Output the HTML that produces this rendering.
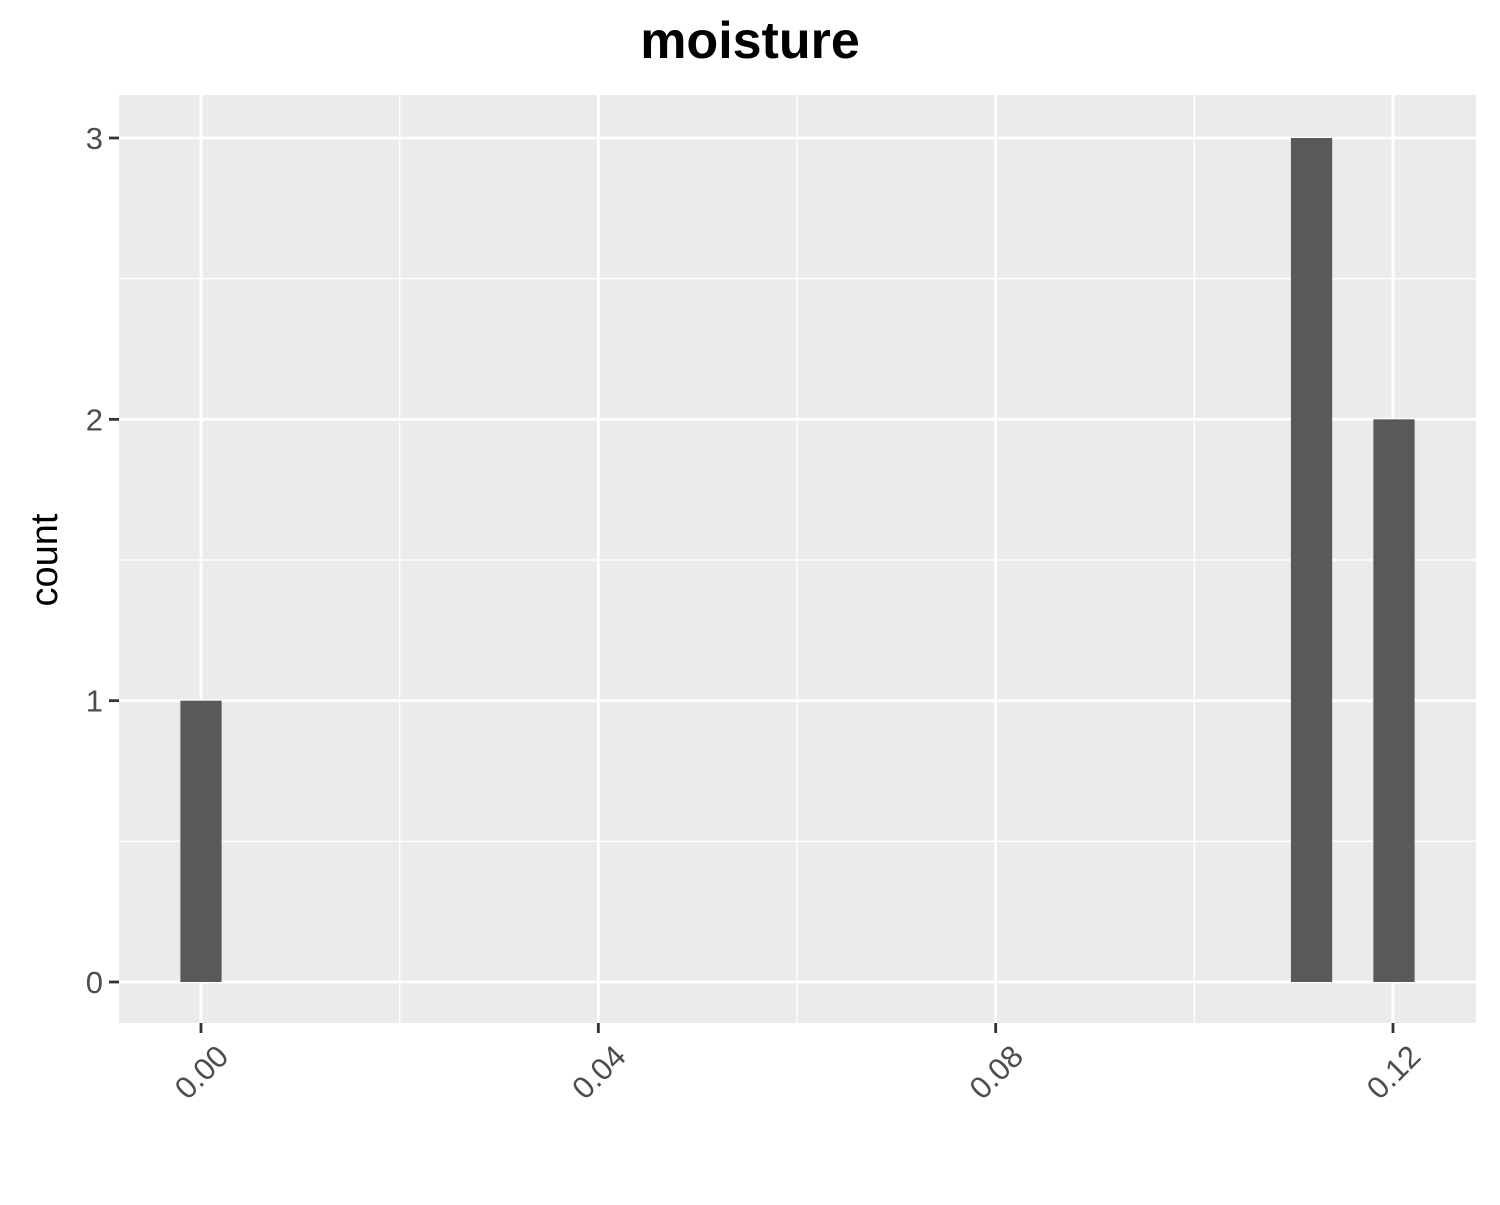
<!DOCTYPE html>
<html><head><meta charset="utf-8"><style>
body{margin:0;background:#fff;}
svg text{font-family:"Liberation Sans",Arial,sans-serif;}
</style></head><body>
<svg id="chart" width="1500" height="1200" xmlns="http://www.w3.org/2000/svg">
<rect width="1500" height="1200" fill="#fff"/>
<text x="750" y="58" text-anchor="middle" font-size="52" font-weight="bold" fill="#000">moisture</text>
<rect x="119" y="95" width="1357" height="928" fill="#ebebeb"/>
<g id="grid"></g><g id="bars"></g><g id="axes"></g>
<text transform="translate(57,560) rotate(-90)" text-anchor="middle" font-size="38" fill="#000">count</text>
</svg>
<script>
const binCenters = [0.0, 0.1118, 0.1201];
const counts = [1, 3, 2];
const binWidth = 0.00415;
const xTicks = [0, 0.04, 0.08, 0.12];
const xTickLabels = ["0.00", "0.04", "0.08", "0.12"];
const xMinor = [0.02, 0.06, 0.10];
const yTicks = [0, 1, 2, 3];
const yMinor = [0.5, 1.5, 2.5];

const NS = "http://www.w3.org/2000/svg";
const px0 = 119, px1 = 1476, py0 = 95, py1 = 1023;
const xs = v => 201 + v * (1393 - 201) / 0.12;
const ys = v => 982 - v * (982 - 138) / 3;
function mk(tag, attrs, parent) {
  const e = document.createElementNS(NS, tag);
  for (const k in attrs) e.setAttribute(k, attrs[k]);
  document.getElementById(parent).appendChild(e);
  return e;
}
xMinor.forEach(v => {
  const l = mk("line", {x1: xs(v), x2: xs(v), y1: py0, y2: py1, stroke: "#fff", "stroke-width": 1.4}, "grid");
  
  
});
yMinor.forEach(v => {
  const l = mk("line", {x1: px0, x2: px1, y1: ys(v), y2: ys(v), stroke: "#fff", "stroke-width": 1.4}, "grid");
  
  
});
xTicks.forEach((v, i) => {
  const l = mk("line", {x1: xs(v), x2: xs(v), y1: py0, y2: py1, stroke: "#fff", "stroke-width": 2.8}, "grid");
  
  
  const t = mk("line", {x1: xs(v), x2: xs(v), y1: py1, y2: py1 + 10, stroke: "#333", "stroke-width": 2.8}, "axes");
  
  
  const tx = mk("text", {transform: `translate(${xs(v) + 14},${py1 + 20}) rotate(-45)`, "text-anchor": "end", "font-size": 31, fill: "#4d4d4d", dy: "0.7em"}, "axes");
  tx.textContent = xTickLabels[i];
  
  
});
yTicks.forEach(v => {
  const l = mk("line", {x1: px0, x2: px1, y1: ys(v), y2: ys(v), stroke: "#fff", "stroke-width": 2.8}, "grid");
  
  
  const t = mk("line", {x1: px0 - 10, x2: px0, y1: ys(v), y2: ys(v), stroke: "#333", "stroke-width": 2.8}, "axes");
  
  
  const tx = mk("text", {x: px0 - 16, y: ys(v) + 11, "text-anchor": "end", "font-size": 31, fill: "#4d4d4d"}, "axes");
  tx.textContent = v;
  
  
});
binCenters.forEach((c, i) => {
  const x0 = xs(c - binWidth / 2), x1 = xs(c + binWidth / 2);
  const r = mk("rect", {x: x0, y: ys(counts[i]), width: x1 - x0, height: ys(0) - ys(counts[i]), fill: "#595959"}, "bars");
  
  
});
</script>
</body></html>
